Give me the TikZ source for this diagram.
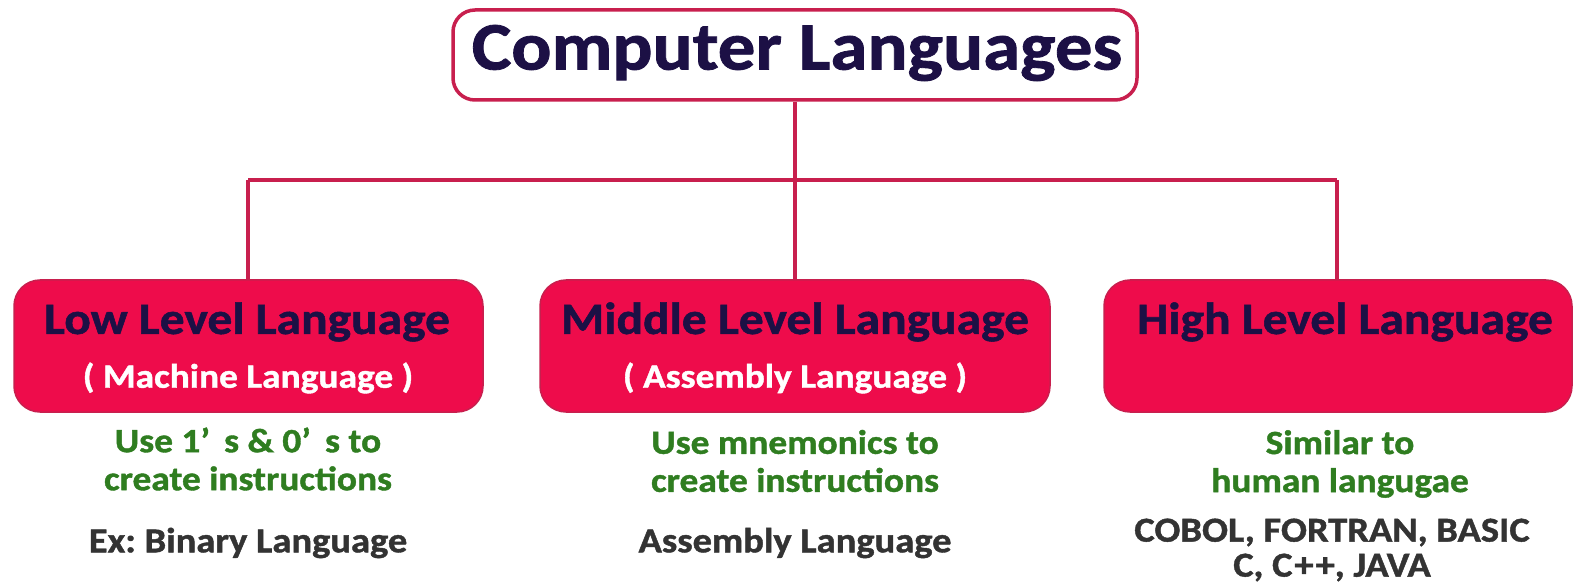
\documentclass[tikz,border=0pt]{standalone}
\usepackage{fontspec}
\setmainfont{Carlito}[FakeStretch=1.1, BoldFeatures={FakeBold=1.2}]
\frenchspacing
\definecolor{crim}{HTML}{EE0C4B}
\definecolor{crimline}{HTML}{C81F4E}
\definecolor{navy}{HTML}{1C1045}
\definecolor{grn}{HTML}{2F7D20}
\definecolor{gry}{HTML}{333333}
\tikzset{
  lvlbox/.style={draw=crimline, line width=1.5pt, fill=crim, rounded corners=26pt, minimum width=#1, minimum height=132pt, inner sep=0pt},
  conn/.style={draw=crimline, line width=4pt},
  lbl/.style={font=\bfseries\fontsize{45}{48}\selectfont, text=navy, inner sep=0pt},
  sub/.style={font=\bfseries\fontsize{34}{38}\selectfont, text=white, inner sep=0pt},
  desc/.style={font=\bfseries\fontsize{34}{38}\selectfont, text=grn, align=center, inner sep=0pt},
  ex/.style={font=\bfseries\fontsize{35}{35}\selectfont, text=gry, align=center, inner sep=0pt}
}
\begin{document}
\begin{tikzpicture}[x=1pt,y=-1pt]
\useasboundingbox[fill=white] (0,0) rectangle (1583,588);
% title
\node[draw=crimline, line width=3.5pt, fill=white, rounded corners=22pt, minimum width=684pt, minimum height=90pt, inner sep=0pt] (top) at (795,55) {};
\node[font=\bfseries\fontsize{68}{72}\selectfont, text=navy, inner sep=0pt] (title) at (797,53) {Computer Languages};
% boxes
\node[lvlbox=469pt] (low) at (248.5,346) {};
\node[lvlbox=510pt] (mid) at (795,346) {};
\node[lvlbox=468pt] (high) at (1338,346) {};
% connectors
\coordinate (j) at (795,180);
\coordinate (jl) at (248,180);
\coordinate (jr) at (1337,180);
\draw[conn] (top.south) -- (j);
\draw[conn] (jl) -- (jr);
\draw[conn] (jl) -- (jl |- low.north);
\draw[conn] (j) -- (mid.north);
\draw[conn] (jr) -- (jr |- high.north);
% labels
\node[lbl] (lowt) at (247,322) {Low Level Language};
\node[lbl] (midt) at (795,322) {Middle Level Language};
\node[lbl] (hight) at (1345,322) {High Level Language};
\node[sub] (lows) at (248,378) {( Machine Language )};
\node[sub] (mids) at (795,378) {( Assembly Language )};
% descriptions
\node[desc] (lowd) at (248,459) {Use 1’\, s \& 0’\, s to\\create instructions};
\node[desc] (midd) at (795,461) {Use mnemonics to\\create instructions};
\node[desc] (highd) at (1340,464) {Similar to\\human langugae};
\node[ex] (lowe) at (248,543) {Ex: Binary Language};
\node[ex] (mide) at (795,543) {Assembly Language};
\node[ex] (highe) at (1332,550) {COBOL, FORTRAN, BASIC\\C, C\kern2pt+\kern2pt+, JAVA};
\end{tikzpicture}
\end{document}
